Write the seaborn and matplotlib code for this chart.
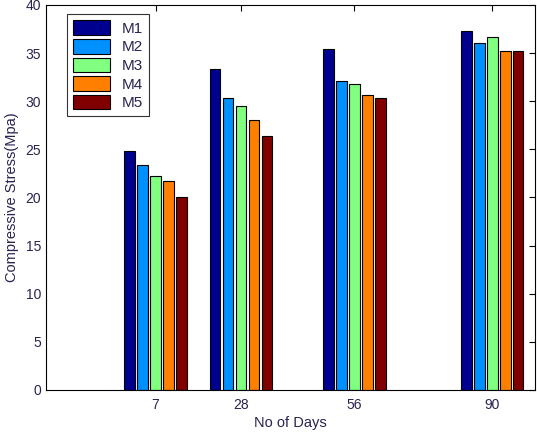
import pandas as pd
import matplotlib
matplotlib.use("Agg")
import matplotlib.pyplot as plt
import seaborn as sns


# Data

days = [7, 28, 56, 90]
mixes = ["M1", "M2", "M3", "M4", "M5"]

m1 = [24.8, 33.3, 35.4, 37.3]
m2 = [23.4, 30.3, 32.1, 36.1]
m3 = [22.2, 29.5, 31.8, 36.7]
m4 = [21.7, 28.0, 30.6, 35.2]
m5 = [20.1, 26.4, 30.3, 35.2]

colors = ["#00008f", "#0090ff", "#80ff80", "#ff7f00", "#800000"]

rows = []
for mix, vals in zip(mixes, [m1, m2, m3, m4, m5]):
    for d, v in zip(days, vals):
        rows.append({"days": d, "mix": mix, "stress": v})
df = pd.DataFrame(rows)


# Chart

sns.set_style("white")
plt.rcParams["font.family"] = ["Liberation Sans", "DejaVu Sans"]

fig = plt.figure(figsize=(5.37, 4.34), dpi=100)
ax = fig.add_axes([0.0857, 0.1014, 0.9106, 0.8871])

sns.barplot(data=df, x="days", y="stress", hue="mix", hue_order=mixes,
            palette=colors, saturation=1, native_scale=True, width=0.76,
            gap=0.2, edgecolor="black", linewidth=0.8, ax=ax)

ax.set_xlim(-20, 100.5)
ax.set_ylim(0, 40)
ax.set_xticks(days)
ax.set_xticklabels([str(d) for d in days])
ax.set_yticks(range(0, 41, 5))

txt = "#2a2250"
ax.tick_params(direction="in", top=True, right=True, length=4,
               labelsize=10, colors="black", labelcolor=txt, width=0.8)
ax.tick_params(axis="x", pad=6)
for s in ax.spines.values():
    s.set_color("black")
    s.set_linewidth(0.8)

ax.set_xlabel("No of Days", fontsize=10.5, color=txt, labelpad=3)
ax.set_ylabel("Compressive Stress(Mpa)", fontsize=10.5, color=txt, labelpad=5)

leg = ax.legend(loc="upper left", bbox_to_anchor=(0.043, 0.976),
                fontsize=11, frameon=True, fancybox=False, handlelength=2.4,
                handleheight=1.1, labelspacing=0.2, borderpad=0.4,
                handletextpad=0.8, borderaxespad=0)
leg.get_frame().set_edgecolor("black")
leg.get_frame().set_linewidth(0.8)
for t in leg.get_texts():
    t.set_color(txt)

fig.savefig("out.png", dpi=100)
